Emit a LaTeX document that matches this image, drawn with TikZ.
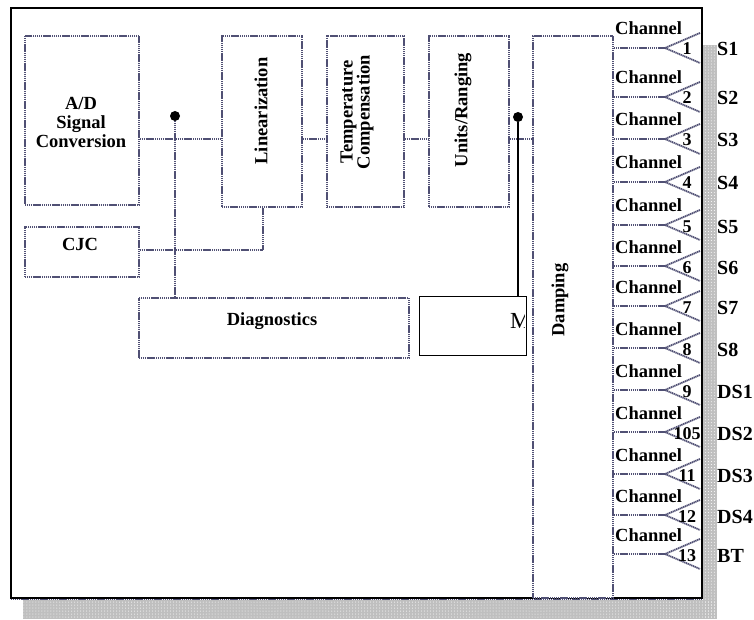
\documentclass[tikz,border=0pt]{standalone}
\usepackage{fontspec}
\setmainfont{Liberation Serif}
\usetikzlibrary{patterns}
\definecolor{slate}{RGB}{80,80,116}
\begin{document}
\begin{tikzpicture}[x=1bp,y=-1bp,
  dl/.style={draw=slate, line width=1.8bp, dash pattern=on 1.3bp off 0.6bp},
  box/.style={dl, fill=white, inner sep=0pt, anchor=north west},
  lbl/.style={font=\bfseries\fontsize{18.5bp}{19bp}\selectfont, align=center, inner sep=0pt},
  chan/.style={font=\bfseries\fontsize{18.5bp}{18bp}\selectfont, inner sep=0pt},
  num/.style={font=\bfseries\fontsize{18bp}{18bp}\selectfont, inner sep=0pt, anchor=base},
  outl/.style={font=\bfseries\fontsize{20bp}{20bp}\selectfont, inner sep=0pt, anchor=base west},
  dot/.style={circle, fill=black, minimum size=10bp, inner sep=0pt}]
\useasboundingbox (0,0) rectangle (754,620);
% shadow
\fill[gray!50] (703,45) rectangle (717,619);
\fill[gray!50] (23,600) rectangle (717,619);
\fill[pattern=dots, pattern color=white] (703,45) rectangle (717,619);
\fill[pattern=dots, pattern color=white] (23,600) rectangle (717,619);
% frame
\draw[black, line width=2bp, fill=white] (11,8) rectangle (702,598);
\draw[dl] (11,599.5) -- (702,599.5);
% boxes
\node[box, minimum width=114bp, minimum height=169bp] (ad) at (24,35) {};
\node[box, minimum width=114bp, minimum height=50bp] (cjc) at (24,226) {};
\node[box, minimum width=80bp, minimum height=171bp] (lin) at (221,35) {};
\node[box, minimum width=77bp, minimum height=171bp] (tc) at (326,35) {};
\node[box, minimum width=80bp, minimum height=171bp] (ur) at (428,35) {};
\node[box, minimum width=80bp, minimum height=562bp] (damp) at (532,35) {};
\node[box, minimum width=270bp, minimum height=60bp] (diag) at (138,297) {};
\node[draw=black, line width=1.3bp, fill=white, inner sep=0pt, anchor=north west, minimum width=107bp, minimum height=59bp] (mbox) at (419,296) {};
% labels
\node[lbl] (adt) at (81,122) {A/D\\Signal\\Conversion};
\node[lbl] (cjct) at (80,244) {CJC};
\node[lbl, rotate=90] (lint) at (261,111) {Linearization};
\node[lbl, rotate=90, font=\bfseries\fontsize{18.5bp}{17bp}\selectfont] (tct) at (357,112) {Temperature\\Compensation};
\node[lbl, rotate=90] (urt) at (463,110) {Units/Ranging};
\node[lbl, rotate=90] (dampt) at (560,300) {Damping};
\node[lbl] (diagt) at (272,321) {Diagnostics};
\begin{scope}
\clip (mbox.south west) rectangle ([xshift=-3bp]mbox.north east);
\node[anchor=base west, inner sep=0pt, font=\fontsize{23bp}{23bp}\selectfont] (mt) at (510,328) {M};
\end{scope}
% connectors
\coordinate (sig) at (0,139);
\coordinate (cj) at (263,250);
\node[dot] (d1) at (175,116) {};
\node[dot] (d2) at (518,117) {};
\draw[dl] (ad.east |- sig) -- (lin.west |- sig);
\draw[dl] (lin.east |- sig) -- (tc.west |- sig);
\draw[dl] (tc.east |- sig) -- (ur.west |- sig);
\draw[dl] (ur.east |- sig) -- (damp.west |- sig);
\draw[dl] (cjc.east |- cj) -- (cj) -- (cj |- lin.south);
\draw[dl] (d1) -- (d1 |- diag.north);
\draw[black, line width=1.4bp] (d2) -- (d2 |- mbox.north);
% channels
\foreach \i/\y/\lab/\n in {1/48/S1/1, 2/97/S2/2, 3/139/S3/3, 4/182/S4/4, 5/225/S5/5, 6/266/S6/6, 7/306/S7/7, 8/348/S8/8, 9/390/DS1/9, 10/432/DS2/105, 11/474/DS3/11, 12/515/DS4/12, 13/554/BT/13}{
  \coordinate (tip\i) at (665,\y);
  \draw[dl] (damp.east |- tip\i) -- (tip\i);
  \draw[dl] ([shift={(35,-15)}]tip\i) -- (tip\i) -- ([shift={(35,15)}]tip\i);
  \node[chan, anchor=base west] (ch\i) at (615,\y-13) {Channel};
  \node[num] (n\i) at (687,\y+7) {\n};
  \node[outl] (o\i) at (717,\y+8) {\lab};
}
\end{tikzpicture}
\end{document}
